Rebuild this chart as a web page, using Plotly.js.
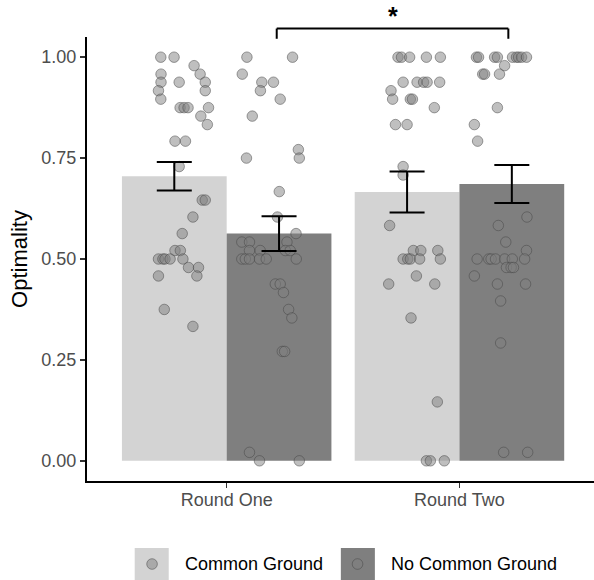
<!DOCTYPE html>
<html>
<head>
<meta charset="utf-8">
<script src="https://cdn.plot.ly/plotly-3.0.1.min.js"></script>
<style>html,body{margin:0;padding:0;background:#fff;}#chart{width:594px;height:580px;}</style>
</head>
<body>
<div id="chart"></div>
<script>
// ---- data ----
var categories = ['Round One', 'Round Two'];
var groups = ['Common Ground', 'No Common Ground'];
var meanCG = [0.705, 0.666];
var seCG = [0.0355, 0.0505];
var meanNCG = [0.563, 0.686];
var seNCG = [0.043, 0.047];

// individual participants (optimality) and horizontal jitter offsets
var r1cgY = [1.0,1.0,0.979,0.958,0.958,0.938,0.938,0.938,0.917,0.917,0.896,0.875,0.875,0.875,0.875,0.854,0.833,0.792,0.792,0.729,0.646,0.646,0.604,0.563,0.521,0.521,0.5,0.5,0.5,0.5,0.5,0.479,0.479,0.458,0.458,0.375,0.333];
var r1cgJ = [-0.283,-0.226,-0.140,-0.114,-0.282,-0.282,-0.204,-0.092,-0.293,-0.092,-0.283,-0.200,-0.183,-0.166,-0.078,-0.111,-0.083,-0.222,-0.177,-0.204,-0.105,-0.092,-0.145,-0.191,-0.222,-0.199,-0.293,-0.274,-0.265,-0.243,-0.188,-0.164,-0.121,-0.293,-0.128,-0.268,-0.145];

var r1ncgY = [1.0,1.0,0.958,0.938,0.938,0.917,0.896,0.854,0.771,0.75,0.75,0.667,0.604,0.563,0.542,0.542,0.542,0.521,0.521,0.521,0.521,0.5,0.5,0.5,0.5,0.5,0.5,0.438,0.438,0.417,0.375,0.354,0.271,0.271,0.021,0,0];
var r1ncgJ = [0.087,0.283,0.067,0.151,0.201,0.145,0.230,0.110,0.308,0.312,0.085,0.226,0.218,0.298,0.065,0.098,0.259,0.098,0.144,0.252,0.273,0.065,0.080,0.098,0.141,0.170,0.299,0.209,0.230,0.244,0.266,0.280,0.239,0.249,0.098,0.141,0.312];

var r2cgY = [1.0,1.0,1.0,1.0,1.0,0.938,0.938,0.938,0.938,0.938,0.917,0.896,0.896,0.896,0.875,0.833,0.833,0.729,0.708,0.583,0.521,0.521,0.521,0.5,0.5,0.5,0.5,0.5,0.458,0.438,0.438,0.354,0.146,0,0,0];
var r2cgJ = [-0.264,-0.249,-0.214,-0.142,-0.082,-0.242,-0.182,-0.154,-0.139,-0.085,-0.294,-0.287,-0.211,-0.202,-0.108,-0.275,-0.225,-0.242,-0.242,-0.300,-0.198,-0.166,-0.093,-0.242,-0.222,-0.211,-0.171,-0.082,-0.185,-0.304,-0.106,-0.208,-0.095,-0.142,-0.125,-0.065];

var r2ncgY = [1.0,1.0,1.0,1.0,1.0,1.0,1.0,1.0,1.0,0.979,0.958,0.958,0.958,0.875,0.833,0.792,0.604,0.583,0.542,0.521,0.5,0.5,0.5,0.5,0.5,0.5,0.5,0.479,0.479,0.479,0.458,0.438,0.438,0.396,0.292,0.021,0.021];
var r2ncgJ = [0.073,0.082,0.151,0.163,0.228,0.245,0.254,0.267,0.288,0.194,0.100,0.108,0.172,0.163,0.064,0.078,0.290,0.167,0.199,0.288,0.076,0.126,0.136,0.155,0.194,0.227,0.280,0.202,0.222,0.232,0.064,0.163,0.284,0.177,0.177,0.190,0.293];

var sigLabel = '*';

// ---- build ----
var catPos = categories.map(function(c, i){ return i + 1; });
var barW = 0.45;
var colCG = '#d3d3d3', colNCG = '#7f7f7f';
var ptFill = 'rgba(128,128,128,0.5)', ptLine = 'rgba(70,70,70,0.5)';

function pts(catIdx, ys, js, name) {
  return {
    type: 'scatter', mode: 'markers', name: name, showlegend: false, hoverinfo: 'skip',
    x: js.map(function(j){ return catPos[catIdx] + j; }), y: ys,
    marker: {size: 10.5, color: ptFill, line: {color: ptLine, width: 1}},
    cliponaxis: false
  };
}

var traces = [
  {type: 'bar', name: groups[0], x: catPos.map(function(p){return p - barW/2;}), y: meanCG, width: barW,
   marker: {color: colCG, line: {width: 0}}, showlegend: false, hoverinfo: 'skip'},
  {type: 'bar', name: groups[1], x: catPos.map(function(p){return p + barW/2;}), y: meanNCG, width: barW,
   marker: {color: colNCG, line: {width: 0}}, showlegend: false, hoverinfo: 'skip'},
  pts(0, r1cgY, r1cgJ, groups[0]),
  pts(0, r1ncgY, r1ncgJ, groups[1]),
  pts(1, r2cgY, r2cgJ, groups[0]),
  pts(1, r2ncgY, r2ncgJ, groups[1]),
  {type: 'scatter', mode: 'markers', showlegend: false, hoverinfo: 'skip',
   x: catPos.map(function(p){return p - barW/2;}).concat(catPos.map(function(p){return p + barW/2;})),
   y: meanCG.concat(meanNCG),
   marker: {size: 0.1, color: 'rgba(0,0,0,0)'},
   error_y: {type: 'data', array: seCG.concat(seNCG), visible: true, color: '#000', thickness: 2, width: 17.5}}
];

// significance bracket between the two No Common Ground bars (y in paper units above the plot)
var bx0 = catPos[0] + barW/2 - 0.01, bx1 = catPos[1] + barW/2 - 0.015;
var brTop = 1.019, brBot = 0.996;
var shapes = [
  {type: 'line', xref: 'x', yref: 'paper', x0: bx0, x1: bx1, y0: brTop, y1: brTop, line: {color: '#000', width: 2}},
  {type: 'line', xref: 'x', yref: 'paper', x0: bx0, x1: bx0, y0: brTop, y1: brBot, line: {color: '#000', width: 2}},
  {type: 'line', xref: 'x', yref: 'paper', x0: bx1, x1: bx1, y0: brTop, y1: brBot, line: {color: '#000', width: 2}},
  // legend keys
  {type: 'rect', xref: 'paper', yref: 'paper', x0: 0.0941, x1: 0.1612, y0: -0.151, y1: -0.224, fillcolor: colCG, line: {width: 0}},
  {type: 'rect', xref: 'paper', yref: 'paper', x0: 0.5007, x1: 0.5678, y0: -0.151, y1: -0.224, fillcolor: colNCG, line: {width: 0}},
  {type: 'circle', xref: 'paper', yref: 'paper', x0: 0.1283-0.0105, x1: 0.1283+0.0105, y0: -0.187-0.012, y1: -0.187+0.012, fillcolor: ptFill, line: {color: ptLine, width: 1}},
  {type: 'circle', xref: 'paper', yref: 'paper', x0: 0.5336-0.0105, x1: 0.5336+0.0105, y0: -0.187-0.012, y1: -0.187+0.012, fillcolor: ptFill, line: {color: ptLine, width: 1}}
];

var annotations = [
  {xref: 'x', yref: 'paper', x: (bx0 + bx1)/2, y: 1.048, yanchor: 'middle', text: '<b>' + sigLabel + '</b>', showarrow: false,
   font: {family: 'Liberation Sans, Arial, sans-serif', size: 25, color: '#000'}},
  {xref: 'paper', yref: 'paper', x: 0.189, y: -0.187, xanchor: 'left', yanchor: 'middle', text: groups[0], showarrow: false,
   font: {family: 'Liberation Sans, Arial, sans-serif', size: 18, color: '#000'}},
  {xref: 'paper', yref: 'paper', x: 0.596, y: -0.187, xanchor: 'left', yanchor: 'middle', text: groups[1], showarrow: false,
   font: {family: 'Liberation Sans, Arial, sans-serif', size: 18, color: '#000'}}
];

var layout = {
  width: 594, height: 580,
  margin: {l: 87, r: 0, t: 37, b: 99, pad: 0},
  paper_bgcolor: '#fff', plot_bgcolor: '#fff',
  font: {family: 'Liberation Sans, Arial, sans-serif', color: '#4d4d4d', size: 18},
  barmode: 'overlay',
  showlegend: false,
  xaxis: {
    range: [0.4, 2.578], tickmode: 'array', tickvals: catPos, ticktext: categories,
    showgrid: false, zeroline: false, showline: true, linecolor: '#000', linewidth: 2,
    ticks: 'outside', ticklen: 5, tickwidth: 1.5, tickcolor: '#333',
    ticklabelstandoff: -4,
    tickfont: {size: 18, color: '#4d4d4d'}
  },
  yaxis: {
    range: [-0.05, 1.05], tickmode: 'array', tickvals: [0, 0.25, 0.5, 0.75, 1.0],
    ticktext: ['0.00', '0.25', '0.50', '0.75', '1.00'],
    showgrid: false, zeroline: false, showline: true, linecolor: '#000', linewidth: 2,
    ticks: 'outside', ticklen: 5, tickwidth: 1.5, tickcolor: '#333',
    tickfont: {size: 18, color: '#4d4d4d'},
    title: {text: 'Optimality', font: {size: 22, color: '#000'}, standoff: 8}
  },
  shapes: shapes,
  annotations: annotations
};

Plotly.newPlot('chart', traces, layout, {displayModeBar: false, staticPlot: true});
</script>
</body>
</html>
